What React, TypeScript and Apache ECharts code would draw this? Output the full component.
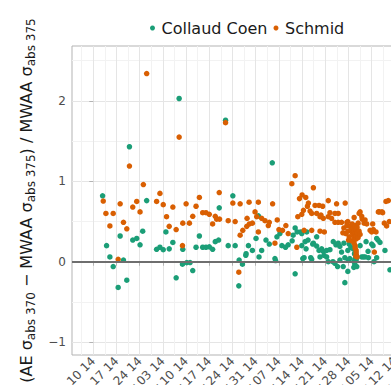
import React, { useEffect, useRef } from "react";
import * as echarts from "echarts";

// x values are days since the first labelled tick (10 Feb 2014)
const tickDays = [0, 7, 14, 21, 28, 35, 42, 49, 56, 63, 70, 77, 84, 91, 98];
const tickLabels = [
  "Feb 10 14", "Feb 17 14", "Feb 24 14", "Mar 03 14", "Mar 10 14", "Mar 17 14",
  "Mar 24 14", "Mar 31 14", "Apr 07 14", "Apr 14 14", "Apr 21 14", "Apr 28 14",
  "May 05 14", "May 12 14", "May 19 14",
];
const minorDays = [-3.5, 3.5, 10.5, 17.5, 24.5, 31.5, 38.5, 45.5, 52.5, 59.5, 66.5, 73.5, 80.5, 87.5, 94.5, 101.5];
const yTicks = [-1, 0, 1, 2];
const yMinor = [-0.5, 0.5, 1.5, 2.5];
const xRange = [-6.43, 101.59];
const yRange = [-1.16, 2.683];

const collaudCoen: [number, number][] = [
  [2.8, 0.82], [4.0, 0.2], [5.0, 0.06], [6.0, -0.06], [7.5, -0.32], [8.1, 0.32], [9.1, 0.02], [10.1, -0.23],
  [10.9, 1.43], [11.9, 0.27], [13.1, 0.29], [14.1, 0.21], [14.9, 0.38], [16.1, 0.76], [19.1, 0.155], [20.1, 0.18],
  [21.1, 0.15], [21.9, 0.37], [22.9, 0.16], [24.0, 0.24], [25.0, -0.2], [25.9, 2.03], [26.9, -0.03], [27.0, 0.155],
  [28.2, -0.01], [29.2, -0.01], [30.0, -0.11], [31.0, 0.18], [32.0, 0.32], [33.0, 0.18], [34.0, 0.18], [35.0, 0.185],
  [36.0, 0.155], [36.8, 0.25], [37.8, 0.27], [38.0, 0.67], [39.9, 1.76], [40.7, 0.2], [42.1, 0.82], [42.8, 0.2],
  [44.0, 0.02], [43.9, -0.3], [45.0, -0.03], [46.0, 0.08], [46.1, 0.1], [46.8, 0.2], [48.0, 0.14], [49.1, 0.29],
  [49.8, 0.57], [50.0, 0.06], [50.8, 0.14], [52.1, 0.27], [53.1, 0.22], [54.0, 1.23], [54.8, 0.04], [55.0, 0.015],
  [55.4, 0.31], [56.3, 0.35], [56.9, 0.2], [58.0, 0.18], [58.8, 0.21], [60.0, 0.26], [60.3, 0.33], [60.9, 0.42],
  [60.9, -0.15], [61.5, 0.37], [62.6, 0.37], [62.9, 0.2], [62.9, 0.35], [63.2, 0.04], [63.6, 0.05], [63.9, 0.25],
  [64.2, 0.16], [64.4, 0.37], [64.8, 0.27], [65.6, 0.05], [65.9, 0.03], [66.2, 0.22], [66.4, 0.23], [67.4, 0.195],
  [67.4, 0.31], [68.1, 0.14], [68.4, 0.06], [68.9, 0.16], [69.4, 0.13], [69.6, 0.08], [70.4, 0.06], [70.4, 0.14],
  [70.9, 0.0], [71.4, 0.15], [72.3, 0.0], [72.4, 0.25], [72.9, -0.02], [73.2, 0.21], [73.7, -0.06], [73.9, 0.23],
  [74.4, 0.02], [74.4, 0.19], [74.9, 0.12], [75.4, -0.06], [75.6, 0.23], [75.9, -0.26], [75.9, 0.05], [76.8, -0.12],
  [76.8, 0.14], [76.9, 0.02], [77.2, 0.22], [77.4, 0.04], [77.7, 0.18], [78.4, 0.16], [78.6, -0.07], [78.7, 0.0],
  [78.8, 0.1], [78.9, 0.03], [78.9, -0.03], [79.0, 0.09], [79.1, 0.15], [79.2, 0.06], [79.2, 0.12], [79.3, 0.02],
  [79.5, 0.05], [79.5, -0.06], [80.5, 0.2], [81.0, 0.06], [81.5, 0.06], [82.0, 0.06], [82.3, 0.25], [82.9, 0.13],
  [83.0, 0.05], [84.0, 0.22], [84.4, 0.2], [84.7, 0.0], [85.5, 0.05], [85.5, 0.29], [85.9, 0.27], [86.5, 0.24],
  [88.0, 0.14], [89.5, -0.1],
];

const schmid: [number, number][] = [
  [3.0, 0.755], [3.8, 0.6], [5.0, 0.445], [6.0, 0.6], [7.5, 0.03], [8.1, 0.72], [9.1, 0.49], [10.1, 0.41],
  [10.9, 1.19], [11.9, 0.68], [13.1, 0.75], [14.1, 0.62], [15.1, 0.96], [16.1, 2.34], [19.1, 0.75], [20.1, 0.85],
  [21.1, 0.71], [22.1, 0.56], [22.9, 0.44], [24.0, 0.68], [25.0, 0.4], [25.9, 1.55], [26.9, 0.2], [27.0, 0.48],
  [28.0, 0.72], [29.0, 0.48], [30.0, 0.565], [31.0, 0.69], [32.0, 0.8], [33.0, 0.61], [34.0, 0.61], [35.0, 0.59],
  [36.0, 0.47], [36.8, 0.565], [37.2, 0.53], [38.0, 0.86], [38.1, 0.53], [39.9, 1.73], [40.7, 0.51], [42.1, 0.73],
  [42.8, 0.5], [43.9, -0.13], [44.3, 0.72], [44.3, 0.33], [45.1, 0.39], [46.3, 0.44], [46.4, 0.54], [47.0, 0.74],
  [47.1, 0.47], [48.0, 0.48], [48.8, 0.62], [49.3, 0.56], [49.8, 0.37], [49.8, 0.74], [50.8, 0.54], [51.8, 0.51],
  [52.8, 0.45], [53.1, 0.49], [54.1, 0.72], [54.8, 0.23], [55.5, 0.52], [56.0, 0.4], [57.1, 0.39], [58.1, 0.45],
  [58.8, 0.35], [59.9, 0.97], [60.9, 1.07], [61.4, 0.18], [61.7, 0.56], [62.2, 0.785], [62.9, 0.59], [63.0, 0.83],
  [63.4, 0.64], [63.6, 0.39], [64.1, 0.8], [64.6, 0.69], [64.9, 0.73], [65.4, 0.63], [65.9, 0.39], [65.9, 0.6],
  [66.4, 0.92], [66.9, 0.7], [67.4, 0.6], [68.1, 0.7], [68.4, 0.56], [68.4, 0.38], [68.7, 0.58], [69.2, 0.69],
  [69.4, 0.54], [69.7, 0.37], [70.9, 0.76], [70.9, 0.56], [71.4, 0.61], [71.9, 0.54], [72.9, 0.49], [72.9, 0.6],
  [73.4, 0.72], [73.9, 0.6], [73.9, 0.49], [74.9, 0.49], [75.3, 0.36], [75.6, 0.42], [76.0, 0.73], [76.2, 0.35],
  [76.5, 0.49], [76.5, 0.45], [76.8, 0.38], [76.8, 0.5], [77.0, 0.27], [77.2, 0.31], [77.5, 0.44], [77.8, 0.4],
  [78.0, 0.26], [78.1, 0.36], [78.1, 0.47], [78.4, 0.33], [78.4, 0.42], [78.7, 0.38], [78.7, 0.3], [78.7, 0.55],
  [78.7, 0.23], [79.0, 0.45], [79.0, 0.35], [79.0, 0.2], [79.0, 0.17], [79.2, 0.28], [79.2, 0.07], [79.3, 0.4],
  [79.3, 0.32], [79.3, 0.14], [79.3, 0.11], [79.4, 0.08], [79.6, 0.43], [79.6, 0.36], [79.6, 0.06], [79.9, 0.3],
  [79.9, 0.48], [80.2, 0.38], [80.2, 0.6], [80.5, 0.34], [80.5, 0.62], [81.0, 0.565], [81.1, 0.53], [81.7, 0.48],
  [82.0, 0.52], [82.5, 0.47], [83.5, 0.39], [84.0, 0.37], [84.3, 0.47], [84.5, 0.4], [84.8, 0.12], [85.3, 0.37],
  [86.0, 0.62], [86.3, 0.62], [87.1, 0.62], [87.3, 0.61], [87.8, 0.48], [88.3, 0.75], [88.5, 0.445], [89.0, 0.76],
  [89.3, 0.5],
];

export default function App() {
  const ref = useRef<HTMLDivElement>(null);
  useEffect(() => {
    if (!ref.current) return;
    const chart = echarts.init(ref.current, null, { renderer: "svg" });
    const font = "DejaVu Sans";
    const tickColor = "#b3b3b3";
    const textColor = "#4d4d4d";
    chart.setOption({
      animation: false,
      textStyle: { fontFamily: font },
      grid: {
        left: 72, top: 46, width: 358, height: 309,
        outerBoundsMode: "none", containLabel: false,
        show: true, borderColor: tickColor, borderWidth: 1, backgroundColor: "transparent",
      },
      legend: {
        data: ["Collaud Coen", "Schmid"],
        left: 150, top: 20, padding: 0,
        icon: "circle", itemWidth: 8, itemHeight: 5, itemGap: 6,
        textStyle: { fontSize: 16, color: "#1a1a1a", fontFamily: font },
      },
      xAxis: [
        {
          type: "value", min: xRange[0], max: xRange[1],
          axisLine: { show: false },
          axisTick: { show: true, customValues: tickDays, length: 4, lineStyle: { color: tickColor } },
          axisLabel: {
            customValues: tickDays,
            formatter: (v: number) => tickLabels[tickDays.indexOf(v)] ?? "",
            rotate: 45, fontSize: 12, color: textColor, margin: 4, fontFamily: font,
          },
          splitLine: { show: true, lineStyle: { color: "#e5e5e5", width: 1 } },
        },
        {
          type: "value", min: xRange[0], max: xRange[1], position: "bottom",
          axisLine: { show: false },
          axisTick: { show: false, customValues: minorDays },
          axisLabel: { show: false },
          splitLine: { show: true, lineStyle: { color: "#f2f2f2", width: 1 } },
        },
      ],
      yAxis: [
        {
          type: "value", min: yRange[0], max: yRange[1],
          axisLine: { show: false },
          axisTick: { show: true, customValues: yTicks, length: 4, lineStyle: { color: tickColor } },
          axisLabel: {
            customValues: yTicks,
            formatter: (v: number) => (v < 0 ? "\u2212" + Math.abs(v) : String(v)),
            fontSize: 12, color: textColor, margin: 6, fontFamily: font,
          },
          splitLine: { show: true, lineStyle: { color: "#e5e5e5", width: 1 } },
          name: "(AE \u03c3{s|abs 370} \u2212 MWAA \u03c3{s|abs 375}) / MWAA \u03c3{s|abs 375}",
          nameLocation: "middle", nameRotate: 90, nameGap: 32,
          nameTextStyle: {
            fontSize: 16, color: "#1a1a1a", fontFamily: font,
            rich: { s: { fontSize: 12, verticalAlign: "bottom", lineHeight: 22, color: "#1a1a1a", fontFamily: font } },
          },
        },
        {
          type: "value", min: yRange[0], max: yRange[1], position: "left",
          axisLine: { show: false },
          axisTick: { show: false, customValues: yMinor },
          axisLabel: { show: false },
          splitLine: { show: true, lineStyle: { color: "#f2f2f2", width: 1 } },
        },
      ],
      series: [
        {
          type: "line", data: [], z: 1, silent: true,
          markLine: {
            silent: true, symbol: ["none", "none"], label: { show: false },
            lineStyle: { color: "#6e6e6e", width: 1.8, type: "solid" },
            emphasis: { disabled: true },
            data: [{ yAxis: 0 }],
          },
        },
        {
          name: "Collaud Coen", type: "scatter", data: collaudCoen, symbolSize: 5.5, z: 3,
          itemStyle: { color: "#1B9E77", opacity: 1 },
        },
        {
          name: "Schmid", type: "scatter", data: schmid, symbolSize: 5.5, z: 3,
          itemStyle: { color: "#D95F02", opacity: 1 },
        },
      ],
    });
    return () => chart.dispose();
  }, []);
  return (
    <div
      ref={ref}
      style={{ position: "fixed", left: 0, top: 0, width: 391, height: 385, background: "#fff" }}
    />
  );
}
